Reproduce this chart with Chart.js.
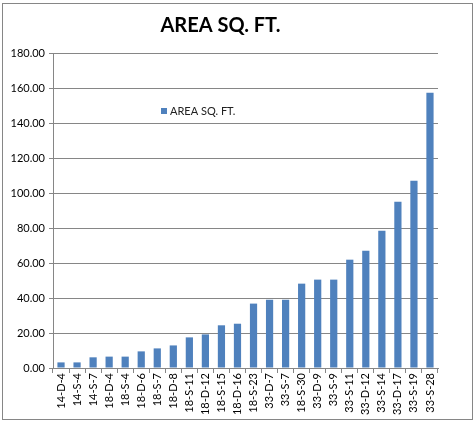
<!DOCTYPE html>
<html>
<head>
<meta charset="utf-8">
<title>AREA SQ. FT.</title>
<script src="https://cdn.jsdelivr.net/npm/chart.js@4/dist/chart.umd.min.js"></script>
<style>
    html, body { margin: 0; padding: 0; background: #ffffff; }
    #area-chart { display: block; }
</style>
</head>
<body>
<canvas id="area-chart" width="475" height="421"></canvas>
<script>
// Chart values
const categories = [
    "14-D-4", "14-S-4", "14-S-7", "18-D-4", "18-S-4", "18-D-6", "18-S-7", "18-D-8",
    "18-S-11", "18-D-12", "18-S-15", "18-D-16", "18-S-23", "33-D-7", "33-S-7", "18-S-30",
    "33-D-9", "33-S-9", "33-S-11", "33-D-12", "33-S-14", "33-D-17", "33-S-19", "33-S-28"
];
const areaValues = [
    3.2, 3.2, 6.1, 6.5, 6.5, 9.5, 11.2, 12.9,
    17.5, 19.2, 24.4, 25.3, 36.8, 39.0, 39.0, 48.2,
    50.5, 50.5, 61.9, 67.0, 78.5, 95.0, 107.0, 157.3
];
const seriesName = "AREA SQ. FT.";
const yTicks = [0, 20, 40, 60, 80, 100, 120, 140, 160, 180];

(function () {
    "use strict";

    const BAR_COLOR  = "#4f81bd";
    const GRID_COLOR = "#868686";
    const FONT = "Lato, 'Open Sans', sans-serif";

    // Outer chart frame, like the spreadsheet chart object border
    const framePlugin = {
        id: "frame",
        beforeDraw(chart) {
            const ctx = chart.ctx;
            ctx.save();
            ctx.fillStyle = "#ffffff";
            ctx.fillRect(0, 0, chart.width, chart.height);
            ctx.strokeStyle = GRID_COLOR;
            ctx.lineWidth = 1;
            ctx.strokeRect(2.5, 3.5, 470, 416);
            ctx.restore();
        }
    };

    // Legend floating inside the plot area
    const floatingLegend = {
        id: "floatingLegend",
        afterDraw(chart) {
            const ds = chart.data.datasets[0];
            const ctx = chart.ctx;
            const x = 161, y = 111;
            ctx.save();
            ctx.fillStyle = ds.backgroundColor;
            ctx.fillRect(x, y - 3, 6, 6);
            ctx.fillStyle = "#222222";
            ctx.font = "11px " + FONT;
            ctx.textBaseline = "middle";
            ctx.fillText(ds.label, x + 9, y);
            ctx.restore();
        }
    };

    const canvas = document.getElementById("area-chart");

    new Chart(canvas.getContext("2d"), {
        type: "bar",
        data: {
            labels: categories,
            datasets: [
                {
                    label: seriesName,
                    data: areaValues,
                    backgroundColor: BAR_COLOR,
                    barPercentage: 0.45,
                    categoryPercentage: 1.0,
                },
            ],
        },
        options: {
            responsive: false,
            devicePixelRatio: 1,
            animation: false,
            layout: { padding: { left: 3, right: 37, top: 0, bottom: 3 } },
            plugins: {
                legend: { display: false },
                tooltip: { enabled: false },
                title: {
                    display: true,
                    text: seriesName,
                    color: "#000000",
                    font: { family: FONT, size: 20, weight: "bold", lineHeight: 1.2 },
                    padding: { top: 14, bottom: 15 },
                },
            },
            scales: {
                x: {
                    offset: true,
                    grid: {
                        display: true,
                        drawOnChartArea: false,
                        offset: true,
                        color: GRID_COLOR,
                        tickLength: 5,
                    },
                    border: { display: true, color: GRID_COLOR },
                    ticks: {
                        autoSkip: false,
                        minRotation: 90,
                        maxRotation: 90,
                        color: "#000000",
                        padding: 0,
                        font: { family: FONT, size: 11 },
                    },
                    afterFit(scale) { scale.height = 50; },
                },
                y: {
                    min: 0,
                    max: 180,
                    afterBuildTicks(scale) {
                        scale.ticks = yTicks.map((v) => ({ value: v }));
                    },
                    grid: {
                        color: GRID_COLOR,
                        tickLength: 4,
                    },
                    border: { display: true, color: GRID_COLOR },
                    ticks: {
                        color: "#000000",
                        padding: 4,
                        font: { family: FONT, size: 11 },
                        callback: (v) => Number(v).toFixed(2),
                    },
                    afterFit(scale) { scale.width = 50; },
                },
            },
        },
        plugins: [framePlugin, floatingLegend],
    });
})();
</script>
</body>
</html>
